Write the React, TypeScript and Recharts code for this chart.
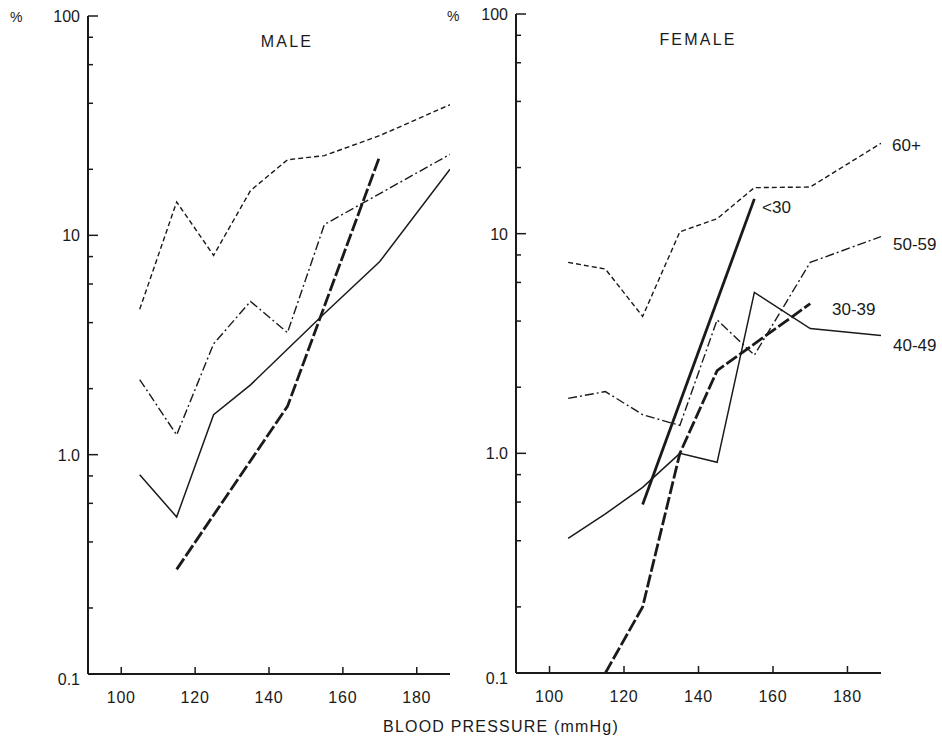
import React from "react";
import { LineChart, Line, XAxis, YAxis } from "recharts";

// blood pressure bins (mmHg) and prevalence (%)
const maleAge60X = [105, 115, 125, 135, 145, 155, 170, 189];
const maleAge60Y = [4.6, 14.2, 8.1, 16.0, 22.1, 23.1, 28.5, 39.4];
const maleAge50X = [105, 115, 125, 135, 145, 155, 189];
const maleAge50Y = [2.2, 1.23, 3.2, 5.0, 3.6, 11.2, 23.4];
const maleAge40X = [105, 115, 125, 135, 155, 170, 189];
const maleAge40Y = [0.81, 0.52, 1.52, 2.08, 4.4, 7.6, 20.0];
const maleAge30X = [115, 145, 170];
const maleAge30Y = [0.3, 1.66, 23.0];

const femaleAge60X = [105, 115, 125, 135, 145, 155, 170, 189];
const femaleAge60Y = [7.4, 6.9, 4.2, 10.2, 11.7, 16.2, 16.3, 25.8];
const femaleAge50X = [105, 115, 125, 135, 145, 155, 170, 189];
const femaleAge50Y = [1.78, 1.91, 1.5, 1.34, 4.05, 2.8, 7.4, 9.7];
const femaleAge40X = [105, 115, 125, 135, 145, 155, 170, 189];
const femaleAge40Y = [0.41, 0.53, 0.7, 1.0, 0.91, 5.4, 3.7, 3.44];
const femaleAge30X = [115, 125, 135, 145, 170];
const femaleAge30Y = [0.1, 0.2, 1.0, 2.38, 4.8];
const femaleUnder30X = [125, 155];
const femaleUnder30Y = [0.585, 14.4];

const xTicks = [100, 120, 140, 160, 180];
const yTicks = [0.1, 0.2, 0.4, 0.6, 0.8, 1, 2, 4, 6, 8, 10, 20, 40, 60, 80, 100];
const yLabels: Record<number, string> = { 0.1: "0.1", 1: "1.0", 10: "10", 100: "100" };

const INK = "#1a1a1a";
const FONT = "'Liberation Sans', Arial, sans-serif";

const zip = (xs: number[], ys: number[]) => xs.map((x, i) => ({ x, y: ys[i] }));

const YTick = (props: any) => {
  const { x, y, payload } = props;
  const v = payload.value;
  const label = yLabels[v];
  const major = label !== undefined;
  return (
    <g>
      {v !== 0.1 && (
        <line x1={x} x2={x + (major ? 10 : 5)} y1={y} y2={y} stroke={INK} strokeWidth={1.5} />
      )}
      {major && (
        <text
          x={x - 8}
          y={y}
          dy={v === 0.1 ? 11 : 6}
          textAnchor="end"
          fontSize={16}
          fontFamily={FONT}
          fill={INK}
        >
          {label}
        </text>
      )}
    </g>
  );
};

const XTick = (props: any) => {
  const { x, y, payload } = props;
  return (
    <g>
      <line x1={x} x2={x} y1={y} y2={y - 7} stroke={INK} strokeWidth={1.5} />
      <text
        x={x}
        y={y + 29}
        textAnchor="middle"
        fontSize={16}
        letterSpacing={0.8}
        fontFamily={FONT}
        fill={INK}
      >
        {payload.value}
      </text>
    </g>
  );
};

interface Series {
  key: string;
  data: { x: number; y: number }[];
  width: number;
  dash?: string;
}

const SHORT_DASH = "5 3";
const DASH_DOT = "9 3 2 3";
const THICK_DASH = "13 3";

const maleSeries: Series[] = [
  { key: "60+", data: zip(maleAge60X, maleAge60Y), width: 1.4, dash: SHORT_DASH },
  { key: "50-59", data: zip(maleAge50X, maleAge50Y), width: 1.4, dash: DASH_DOT },
  { key: "40-49", data: zip(maleAge40X, maleAge40Y), width: 1.5 },
  { key: "30-39", data: zip(maleAge30X, maleAge30Y), width: 2.8, dash: THICK_DASH },
];

const femaleSeries: Series[] = [
  { key: "60+", data: zip(femaleAge60X, femaleAge60Y), width: 1.4, dash: SHORT_DASH },
  { key: "50-59", data: zip(femaleAge50X, femaleAge50Y), width: 1.4, dash: DASH_DOT },
  { key: "40-49", data: zip(femaleAge40X, femaleAge40Y), width: 1.5 },
  { key: "30-39", data: zip(femaleAge30X, femaleAge30Y), width: 2.8, dash: THICK_DASH },
  { key: "<30", data: zip(femaleUnder30X, femaleUnder30Y), width: 2.8 },
];

function Panel({
  series,
  width,
  margin,
}: {
  series: Series[];
  width: number;
  margin: { top: number; right: number; bottom: number; left: number };
}) {
  return (
    <LineChart width={width} height={736} margin={margin}>
      <XAxis
        type="number"
        dataKey="x"
        domain={[91, 189]}
        ticks={xTicks}
        allowDataOverflow
        height={30}
        tickSize={0}
        tickMargin={0}
        tickLine={false}
        tick={<XTick />}
        axisLine={{ stroke: INK, strokeWidth: 2 }}
        interval={0}
      />
      <YAxis
        type="number"
        dataKey="y"
        scale="log"
        domain={[0.1, 100]}
        ticks={yTicks}
        allowDataOverflow
        width={40}
        tickSize={0}
        tickMargin={0}
        tickLine={false}
        tick={<YTick />}
        axisLine={{ stroke: INK, strokeWidth: 2 }}
        interval={0}
      />
      {series.map((s) => (
        <Line
          key={s.key}
          data={s.data}
          dataKey="y"
          type="linear"
          stroke={INK}
          strokeWidth={s.width}
          strokeDasharray={s.dash}
          dot={false}
          activeDot={false}
          isAnimationActive={false}
        />
      ))}
    </LineChart>
  );
}

const textStyle = { fontFamily: FONT, fill: INK };

export default function App() {
  return (
    <div style={{ position: "absolute", left: 0, top: 0, width: 942, height: 736, background: "#fff" }}>
      <div style={{ position: "absolute", left: 0, top: 0 }}>
        <Panel series={maleSeries} width={470} margin={{ top: 16, right: 20, bottom: 32, left: 48 }} />
      </div>
      <div style={{ position: "absolute", left: 470, top: 0 }}>
        <Panel series={femaleSeries} width={472} margin={{ top: 14, right: 61, bottom: 33, left: 6 }} />
      </div>
      <svg
        width={942}
        height={736}
        style={{ position: "absolute", left: 0, top: 0, pointerEvents: "none" }}
      >
        <text x={10} y={22} fontSize={14} {...textStyle}>%</text>
        <text x={447} y={21} fontSize={14} {...textStyle}>%</text>
        <text x={287} y={47} fontSize={16} letterSpacing={2.2} textAnchor="middle" {...textStyle}>MALE</text>
        <text x={698} y={45} fontSize={16} letterSpacing={2.2} textAnchor="middle" {...textStyle}>FEMALE</text>
        <text x={892} y={151} fontSize={17} {...textStyle}>60+</text>
        <text x={762} y={213} fontSize={17} {...textStyle}>{"<30"}</text>
        <text x={893} y={250} fontSize={17} {...textStyle}>50-59</text>
        <text x={832} y={315} fontSize={17} {...textStyle}>30-39</text>
        <text x={893} y={351} fontSize={17} {...textStyle}>40-49</text>
        <text x={501} y={732} fontSize={16} letterSpacing={1.2} textAnchor="middle" {...textStyle}>
          BLOOD PRESSURE (mmHg)
        </text>
      </svg>
    </div>
  );
}
